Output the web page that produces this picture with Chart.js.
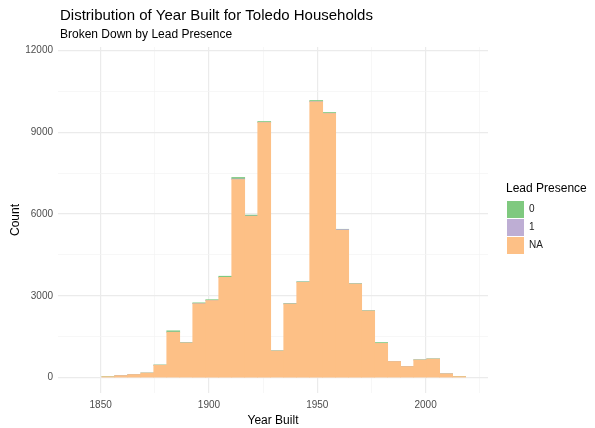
<!DOCTYPE html>
<html>
<head>
<meta charset="utf-8">
<script src="https://cdn.jsdelivr.net/npm/chart.js@4.4.0/dist/chart.umd.min.js"></script>
<style>
  html, body { margin: 0; padding: 0; background: #fff; }
  #wrap { width: 595px; height: 428px; }
</style>
</head>
<body>
<div id="wrap"><canvas id="histChart" width="595" height="428"></canvas></div>
<script>
// bins of 6 years, centers
const binCenters = [1841.5, 1847.5, 1853.5, 1859.5, 1865.5, 1871.5, 1877.5, 1883.5, 1889.5, 1895.5,
  1901.5, 1907.5, 1913.5, 1919.5, 1925.5, 1931.5, 1937.5, 1943.5, 1949.5, 1955.5,
  1961.5, 1967.5, 1973.5, 1979.5, 1985.5, 1991.5, 1997.5, 2003.5, 2009.5, 2015.5];

// counts per lead presence group
const lead0 = [0, 0, 1, 2, 3, 4, 10, 50, 15, 30, 30, 40, 55, 35, 30, 10, 15, 15, 40, 30,
  10, 15, 15, 30, 5, 5, 10, 10, 2, 1];
const lead1 = [0, 0, 0, 1, 1, 1, 3, 5, 3, 5, 5, 5, 25, 10, 10, 2, 4, 5, 10, 10,
  25, 5, 5, 3, 2, 1, 2, 2, 1, 0];
const leadNA = [0, 0, 39, 77, 116, 170, 457, 1665, 1272, 2710, 2825, 3675, 7260, 5915, 9350, 978, 2701, 3500, 10110, 9680,
  5405, 3430, 2440, 1257, 593, 409, 648, 683, 142, 44];

const groupLabels = ["0", "1", "NA"];
const groupColors = ["#7FC97F", "#BEAED4", "#FDC086"];

const xTicks = [1850, 1900, 1950, 2000];
const xMinor = [1875, 1925, 1975, 2025];
const yTicks = [0, 3000, 6000, 9000, 12000];
const yMinor = [1500, 4500, 7500, 10500];

// empty bins -> null so no hairline bar gets drawn
const toPoints = (vals) => vals.map((v, i) => ({ x: binCenters[i], y: v === 0 ? null : v }));

Chart.defaults.font.family = "'Liberation Sans', Arial, sans-serif";

const titlePlugin = {
  id: "ggTitles",
  afterDraw(chart) {
    const ctx = chart.ctx;
    const left = chart.chartArea.left + 2;
    ctx.save();
    ctx.fillStyle = "#000";
    ctx.textBaseline = "alphabetic";
    ctx.textAlign = "left";
    ctx.font = "15px 'Liberation Sans', Arial, sans-serif";
    ctx.fillText("Distribution of Year Built for Toledo Households", left, 20);
    ctx.font = "12px 'Liberation Sans', Arial, sans-serif";
    ctx.fillText("Broken Down by Lead Presence", left, 38);
    ctx.restore();
  },
};

// legend box is clipped, so make it wide enough for its title
const legendWidth = {
  id: "legendWidth",
  afterInit(chart) {
    const lg = chart.legend;
    const fit = lg.fit;
    lg.fit = function () {
      fit.call(this);
      this.width = Math.max(this.width, 89);
    };
  },
};

const majorGrid = "#ebebeb";
const minorGrid = "#f3f3f3";

// stacked bottom-up: NA, 1, 0 (legend reversed to read 0, 1, NA)
new Chart(document.getElementById("histChart"), {
  type: "bar",
  data: {
    datasets: [
      { label: groupLabels[2], data: toPoints(leadNA), backgroundColor: groupColors[2], borderWidth: 0 },
      { label: groupLabels[1], data: toPoints(lead1), backgroundColor: groupColors[1], borderWidth: 0 },
      { label: groupLabels[0], data: toPoints(lead0), backgroundColor: groupColors[0], borderWidth: 0 },
    ],
  },
  options: {
    responsive: false,
    animation: false,
    barPercentage: 1,
    categoryPercentage: 1,
    layout: { padding: { top: 47, left: 0, right: 0, bottom: 0 } },
    scales: {
      x: {
        type: "linear",
        stacked: true,
        offset: false,
        min: 1830.3,
        max: 2028.8,
        afterBuildTicks: (s) => {
          s.ticks = xTicks.concat(xMinor).sort((a, b) => a - b).map((v) => ({ value: v }));
        },
        afterFit: (s) => { s.height = 35; },
        ticks: {
          padding: 6,
          color: "#4d4d4d",
          font: { size: 10 },
          maxRotation: 0,
          callback: (v) => (xTicks.includes(v) ? String(v) : ""),
        },
        grid: {
          offset: false,
          drawTicks: false,
          color: (c) => (c.tick && xTicks.includes(c.tick.value) ? majorGrid : minorGrid),
          lineWidth: (c) => (c.tick && xTicks.includes(c.tick.value) ? 1.2 : 0.7),
        },
        border: { display: false },
        title: {
          display: true,
          text: "Year Built",
          color: "#000",
          font: { size: 12 },
          padding: { top: 1, bottom: 0.5 },
        },
      },
      y: {
        stacked: true,
        min: -560,
        max: 12120,
        afterBuildTicks: (s) => {
          s.ticks = yTicks.concat(yMinor).sort((a, b) => a - b).map((v) => ({ value: v }));
        },
        afterFit: (s) => { s.width = 58; },
        ticks: {
          padding: 5,
          color: "#4d4d4d",
          font: { size: 10 },
          callback: (v) => (yTicks.includes(v) ? String(v) : ""),
        },
        grid: {
          drawTicks: false,
          color: (c) => (c.tick && yTicks.includes(c.tick.value) ? majorGrid : minorGrid),
          lineWidth: (c) => (c.tick && yTicks.includes(c.tick.value) ? 1.2 : 0.7),
        },
        border: { display: false },
        title: {
          display: true,
          text: "Count",
          color: "#000",
          font: { size: 12 },
          padding: { top: 8, bottom: 0 },
        },
      },
      // empty axis just to leave a gap before the legend
      yPad: {
        type: "linear",
        position: "right",
        display: true,
        grid: { display: false },
        ticks: { display: false },
        border: { display: false },
        afterFit: (s) => { s.width = 18; },
      },
    },
    plugins: {
      tooltip: { enabled: false },
      legend: {
        position: "right",
        fullSize: false,
        reverse: true,
        labels: {
          boxWidth: 17,
          boxHeight: 17,
          padding: 1,
          color: "#222",
          font: { size: 10 },
        },
        title: {
          display: true,
          position: "start",
          text: "Lead Presence",
          color: "#000",
          font: { size: 12 },
          padding: { top: -2, bottom: 2.6 },
        },
      },
    },
  },
  plugins: [titlePlugin, legendWidth],
});
</script>
</body>
</html>
